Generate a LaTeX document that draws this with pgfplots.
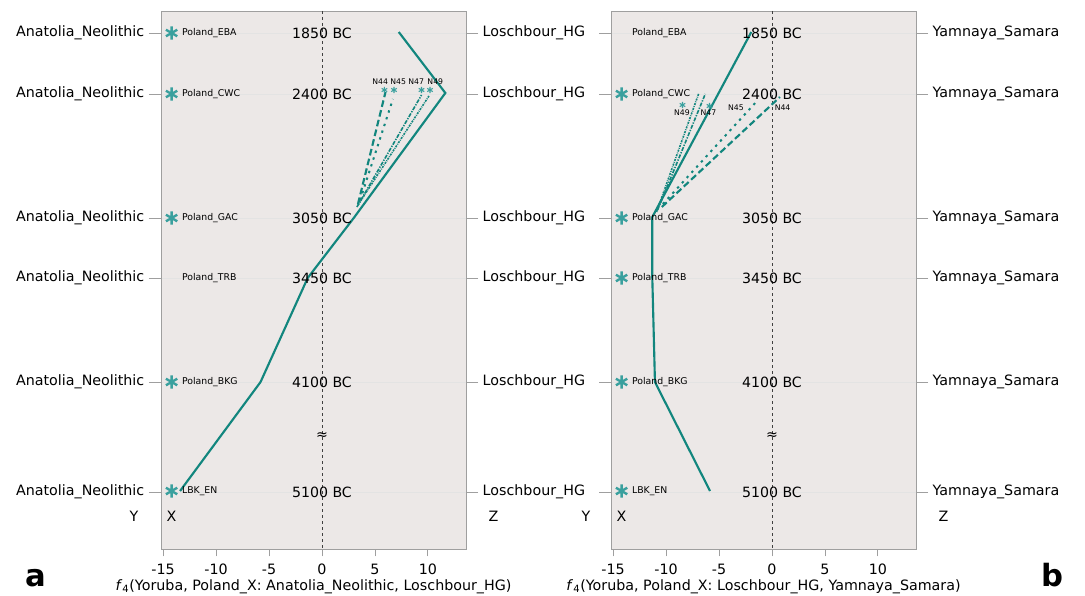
\documentclass[border=0pt]{standalone}
\usepackage{fontspec}
\setmainfont{DejaVu Sans}
\usepackage{pgfplots}
\pgfplotsset{compat=1.18}
\definecolor{teal1}{RGB}{18,134,126}
\definecolor{star1}{RGB}{58,160,158}
\definecolor{bgc}{RGB}{236,232,231}
\newcommand{\lab}{\fontsize{10.7}{12}\selectfont}
\newcommand{\sml}{\fontsize{7.0}{8}\selectfont}
\newcommand{\tny}{\fontsize{5.8}{7}\selectfont}
\newcommand{\dat}{\fontsize{10.6}{12}\selectfont}
\tikzset{plab/.style={anchor=west, font=\sml, inner sep=0.5pt}}
\pgfplotsset{
  base/.style={scale only axis, width=228.75pt, height=403.5pt,
    xmin=-15.2, xmax=13.6, ymin=11, ymax=549, y dir=reverse, clip=false,
    anchor=south west},
  mainax/.style={base,
    axis background/.style={fill=bgc},
    axis line style={draw=gray!75, line width=0.6pt},
    xtick={-15,-10,-5,0,5,10}, xtick pos=bottom, tick align=outside,
    major tick length=5.5pt,
    ytick={33,94,218,278,382,492}, yticklabels={,,,,,}, ytick style={draw=none},
    xtick style={draw=gray!75, line width=0.6pt},
    ymajorgrids, grid style={gray!22, line width=0.4pt},
    tick label style={font=\lab, text=black},
    xticklabel style={yshift=-2pt},
    /pgf/number format/assume math mode=true,
    xlabel style={font=\lab, yshift=3pt}},
  tickax/.style={base, axis line style={draw=none}, xtick=\empty,
    ytick={33,94,218,278,382,492}, tick align=outside, major tick length=9pt,
    ytick pos=both, yticklabel pos=left,
    ytick style={draw=gray!75, line width=0.6pt},
    tick label style={font=\lab, text=black}},
  rightax/.style={base, axis line style={draw=none}, xtick=\empty,
    ytick={33,94,218,278,382,492}, tick align=outside, major tick length=9pt,
    ytick pos=right, yticklabel pos=right, ytick style={draw=none},
    tick label style={font=\lab, text=black}},
  solidl/.style={teal1, line width=1.6pt},
  bigstar/.style={only marks, mark=asterisk, mark size=4.9pt, star1, line width=1.8pt},
  smallstar/.style={only marks, mark=asterisk, mark size=2.4pt, star1, line width=0.8pt},
  zeroline/.style={black!75, line width=0.5pt, dash pattern=on 2.5pt off 2pt}
}
\begin{document}
\begin{tikzpicture}
\useasboundingbox (0,0) rectangle (813.75pt,447pt);
% ================= panel a =================
\begin{axis}[mainax, at={(120.75pt,35.25pt)},
  xlabel={\textit{f}\textsubscript{4}(Yoruba, Poland\_X: Anatolia\_Neolithic, Loschbour\_HG)}]
\addplot[zeroline] coordinates {(0,11) (0,549)};
\addplot[solidl] coordinates {(7.25,32) (11.65,93) (3.0,218) (-1.35,278) (-5.8,382) (-13.4,491)};
\addplot[teal1, line width=1.6pt, dash pattern=on 5pt off 2.5pt] coordinates {(3.4,204) (6.0,92)};
\addplot[teal1, line width=1.5pt, dash pattern=on 1.8pt off 3.5pt] coordinates {(3.6,200) (6.7,99)};
\addplot[teal1, line width=1.2pt, dash pattern=on 3pt off 1pt on 1pt off 1pt] coordinates {(3.3,207) (9.4,95)};
\addplot[teal1, line width=1.2pt, dash pattern=on 1.5pt off 0.8pt on 0.6pt off 0.8pt] coordinates {(3.4,205) (10.1,96)};
\addplot[bigstar] coordinates {(-14.2,33) (-14.2,94) (-14.2,218) (-14.2,382) (-14.2,491)};
\addplot[smallstar] coordinates {(5.9,90) (6.8,90) (9.4,90) (10.2,90)};
\node[plab] at (axis cs:-13.3,33) {Poland\_EBA};
\node[plab] at (axis cs:-13.3,94) {Poland\_CWC};
\node[plab] at (axis cs:-13.3,218) {Poland\_GAC};
\node[plab] at (axis cs:-13.3,278) {Poland\_TRB};
\node[plab] at (axis cs:-13.3,382) {Poland\_BKG};
\node[plab] at (axis cs:-13.3,491) {LBK\_EN};
\node[font=\dat] at (axis cs:0,33) {1850 BC};
\node[font=\dat] at (axis cs:0,94) {2400 BC};
\node[font=\dat] at (axis cs:0,218) {3050 BC};
\node[font=\dat] at (axis cs:0,278) {3450 BC};
\node[font=\dat] at (axis cs:0,382) {4100 BC};
\node[font=\dat] at (axis cs:0,492) {5100 BC};
\node[font=\dat] at (axis cs:0,436) {≈};
\node[font=\tny] at (axis cs:5.5,82) {N44};
\node[font=\tny] at (axis cs:7.2,82) {N45};
\node[font=\tny] at (axis cs:8.9,82) {N47};
\node[font=\tny] at (axis cs:10.7,82) {N49};
\node[font=\lab] at (axis cs:-14.2,516) {X};
\node[font=\lab, anchor=east] at ([xshift=-13.5pt]axis cs:-15.2,516) {Y};
\node[font=\lab, anchor=west] at ([xshift=13.5pt]axis cs:13.6,516) {Z};
\end{axis}
\begin{axis}[tickax, at={(120.75pt,35.25pt)},
  yticklabels={Anatolia\_Neolithic,Anatolia\_Neolithic,Anatolia\_Neolithic,Anatolia\_Neolithic,Anatolia\_Neolithic,Anatolia\_Neolithic}]
\end{axis}
\begin{axis}[rightax, at={(120.75pt,35.25pt)},
  yticklabels={Loschbour\_HG,Loschbour\_HG,Loschbour\_HG,Loschbour\_HG,Loschbour\_HG,Loschbour\_HG}]
\end{axis}
% ================= panel b =================
\begin{axis}[mainax, at={(458.25pt,35.25pt)},
  xlabel={\textit{f}\textsubscript{4}(Yoruba, Poland\_X: Loschbour\_HG, Yamnaya\_Samara)}]
\addplot[zeroline] coordinates {(0,11) (0,549)};
\addplot[solidl] coordinates {(-1.95,32) (-11.3,217) (-11.3,278) (-11.05,382) (-5.85,491)};
\addplot[teal1, line width=1.6pt, dash pattern=on 5pt off 2.5pt] coordinates {(-10.4,207) (0.75,97)};
\addplot[teal1, line width=1.5pt, dash pattern=on 1.8pt off 3.5pt] coordinates {(-10.3,204) (-1.5,102)};
\addplot[teal1, line width=1.2pt, dash pattern=on 3pt off 1pt on 1pt off 1pt] coordinates {(-10.8,210) (-6.3,94)};
\addplot[teal1, line width=1.2pt, dash pattern=on 1.5pt off 0.8pt on 0.6pt off 0.8pt] coordinates {(-10.9,212) (-6.9,93)};
\addplot[bigstar] coordinates {(-14.2,94) (-14.2,218) (-14.2,278) (-14.2,382) (-14.2,491)};
\addplot[smallstar] coordinates {(-8.45,105) (-5.9,106)};
\node[plab] at (axis cs:-13.3,33) {Poland\_EBA};
\node[plab] at (axis cs:-13.3,94) {Poland\_CWC};
\node[plab] at (axis cs:-13.3,218) {Poland\_GAC};
\node[plab] at (axis cs:-13.3,278) {Poland\_TRB};
\node[plab] at (axis cs:-13.3,382) {Poland\_BKG};
\node[plab] at (axis cs:-13.3,491) {LBK\_EN};
\node[font=\dat] at (axis cs:0,33) {1850 BC};
\node[font=\dat] at (axis cs:0,94) {2400 BC};
\node[font=\dat] at (axis cs:0,218) {3050 BC};
\node[font=\dat] at (axis cs:0,278) {3450 BC};
\node[font=\dat] at (axis cs:0,382) {4100 BC};
\node[font=\dat] at (axis cs:0,492) {5100 BC};
\node[font=\dat] at (axis cs:0,436) {≈};
\node[font=\tny] at (axis cs:-8.5,113) {N49};
\node[font=\tny] at (axis cs:-6.0,113) {N47};
\node[font=\tny] at (axis cs:-3.4,108) {N45};
\node[font=\tny] at (axis cs:1.0,108) {N44};
\node[font=\lab] at (axis cs:-14.2,516) {X};
\node[font=\lab, anchor=east] at ([xshift=-12pt]axis cs:-15.2,516) {Y};
\node[font=\lab, anchor=west] at ([xshift=13.5pt]axis cs:13.6,516) {Z};
\end{axis}
\begin{axis}[tickax, at={(458.25pt,35.25pt)}, yticklabels={,,,,,}]
\end{axis}
\begin{axis}[rightax, at={(458.25pt,35.25pt)},
  yticklabels={Yamnaya\_Samara,Yamnaya\_Samara,Yamnaya\_Samara,Yamnaya\_Samara,Yamnaya\_Samara,Yamnaya\_Samara}]
\end{axis}
% panel letters
\node[font=\bfseries\fontsize{23}{26}\selectfont, anchor=base] at (27pt,6.75pt) {a};
\node[font=\bfseries\fontsize{23}{26}\selectfont, anchor=base] at (789pt,6.75pt) {b};
\end{tikzpicture}
\end{document}
